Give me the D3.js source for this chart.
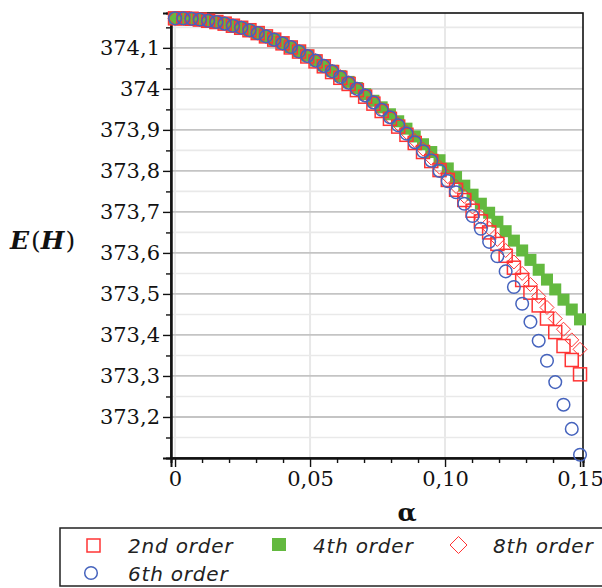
<!DOCTYPE html>
<html><head><meta charset="utf-8">
<script src="https://cdn.jsdelivr.net/npm/d3@7"></script>
<style>
html,body{margin:0;padding:0;background:#fff;}
svg{display:block;}
</style></head>
<body>
<svg id="chart" width="602" height="588"></svg>
<script>
// ---- data ----
const alpha = [0, 0.00306, 0.00612, 0.00918, 0.01224, 0.01531, 0.01837, 0.02143, 0.02449, 0.02755,
  0.03061, 0.03367, 0.03673, 0.03980, 0.04286, 0.04592, 0.04898, 0.05204, 0.05510, 0.05816,
  0.06122, 0.06429, 0.06735, 0.07041, 0.07347, 0.07653, 0.07959, 0.08265, 0.08571, 0.08878,
  0.09184, 0.09490, 0.09796, 0.10102, 0.10408, 0.10714, 0.11020, 0.11327, 0.11633, 0.11939,
  0.12245, 0.12551, 0.12857, 0.13163, 0.13469, 0.13776, 0.14082, 0.14388, 0.14694, 0.15];

const order2 = [374.172, 374.172, 374.171, 374.169, 374.166, 374.163, 374.159, 374.154, 374.149, 374.143,
  374.136, 374.128, 374.120, 374.111, 374.101, 374.091, 374.079, 374.067, 374.055, 374.041,
  374.027, 374.012, 373.997, 373.981, 373.964, 373.946, 373.927, 373.908, 373.888, 373.868,
  373.846, 373.824, 373.802, 373.778, 373.754, 373.729, 373.703, 373.677, 373.650, 373.622,
  373.593, 373.564, 373.534, 373.503, 373.472, 373.440, 373.407, 373.373, 373.339, 373.304];

const order4 = [374.172, 374.172, 374.171, 374.169, 374.166, 374.163, 374.159, 374.154, 374.149, 374.143,
  374.136, 374.128, 374.120, 374.112, 374.102, 374.092, 374.081, 374.069, 374.057, 374.044,
  374.031, 374.017, 374.002, 373.987, 373.971, 373.955, 373.938, 373.921, 373.903, 373.884,
  373.865, 373.846, 373.826, 373.806, 373.785, 373.764, 373.742, 373.720, 373.698, 373.676,
  373.653, 373.630, 373.606, 373.583, 373.559, 373.535, 373.511, 373.486, 373.462, 373.438];

const order6 = [374.172, 374.172, 374.171, 374.169, 374.166, 374.163, 374.159, 374.154, 374.149, 374.143,
  374.136, 374.128, 374.120, 374.111, 374.102, 374.091, 374.080, 374.069, 374.056, 374.043,
  374.029, 374.015, 374.000, 373.984, 373.967, 373.949, 373.931, 373.911, 373.891, 373.870,
  373.848, 373.825, 373.800, 373.775, 373.748, 373.720, 373.690, 373.659, 373.627, 373.592,
  373.555, 373.517, 373.476, 373.432, 373.386, 373.337, 373.285, 373.230, 373.171, 373.108];

const order8 = [374.172, 374.172, 374.171, 374.169, 374.166, 374.163, 374.159, 374.154, 374.149, 374.143,
  374.136, 374.128, 374.120, 374.111, 374.102, 374.091, 374.080, 374.069, 374.056, 374.043,
  374.030, 374.015, 374.000, 373.984, 373.968, 373.950, 373.932, 373.914, 373.894, 373.874,
  373.853, 373.831, 373.809, 373.786, 373.762, 373.738, 373.712, 373.687, 373.660, 373.633,
  373.606, 373.578, 373.550, 373.523, 373.494, 373.467, 373.440, 373.414, 373.388, 373.365];

const seriesNames = ["2nd order", "4th order", "8th order", "6th order"];

const xTicks = [0, 0.05, 0.10, 0.15];
const xTickLabels = ["0", "0,05", "0,10", "0,15"];
const xMinorTicks = [0.01, 0.02, 0.03, 0.04, 0.06, 0.07, 0.08, 0.09, 0.11, 0.12, 0.13, 0.14];
const yTicks = [373.2, 373.3, 373.4, 373.5, 373.6, 373.7, 373.8, 373.9, 374.0, 374.1];
const yTickLabels = ["373,2", "373,3", "373,4", "373,5", "373,6", "373,7", "373,8", "373,9", "374", "374,1"];
const yMinorTicks = [373.15, 373.25, 373.35, 373.45, 373.55, 373.65, 373.75, 373.85, 373.95, 374.05, 374.15];

// ---- layout ----
const svg = d3.select("#chart");
const L = 171, R = 583, T = 13, B = 458;
const x = d3.scaleLinear().domain([-0.0015, 0.1511]).range([L, R]);
const y = d3.scaleLinear().domain([373.1, 374.185]).range([B, T]);

const RED = "#ff3434", GREEN = "#63b93f", BLUE = "#4563bd";

// gridlines
const grid = svg.append("g");
grid.selectAll(".vg").data(xTicks.slice(0, 3)).join("line")
  .attr("x1", d => x(d)).attr("x2", d => x(d)).attr("y1", T).attr("y2", B)
  .attr("stroke", "#e8e8e8").attr("stroke-width", 2);
grid.selectAll(".hmin").data(yMinorTicks).join("line")
  .attr("x1", L).attr("x2", R).attr("y1", d => y(d)).attr("y2", d => y(d))
  .attr("stroke", "#e9e9e9").attr("stroke-width", 1.6);
grid.selectAll(".hmaj").data(yTicks).join("line")
  .attr("x1", L).attr("x2", R).attr("y1", d => y(d)).attr("y2", d => y(d))
  .attr("stroke", "#c4c4c4").attr("stroke-width", 1.8);

// frame
svg.append("rect").attr("x", L).attr("y", T).attr("width", R - L).attr("height", B - T)
  .attr("fill", "none").attr("stroke", "#111").attr("stroke-width", 1.6);

// axes
const fontTick = "'DejaVu Serif', serif";
const yAxis = svg.append("g").attr("transform", `translate(${L},0)`)
  .call(d3.axisLeft(y).tickValues(yTicks).tickFormat((d, i) => yTickLabels[i]).tickSize(8).tickPadding(3));
const yMinor = svg.append("g").attr("transform", `translate(${L},0)`)
  .call(d3.axisLeft(y).tickValues(yMinorTicks).tickFormat("").tickSize(5));
const xAxis = svg.append("g").attr("transform", `translate(0,${B})`)
  .call(d3.axisBottom(x).tickValues(xTicks).tickFormat((d, i) => xTickLabels[i]).tickSize(9).tickPadding(4));
const xMinor = svg.append("g").attr("transform", `translate(0,${B})`)
  .call(d3.axisBottom(x).tickValues(xMinorTicks).tickFormat("").tickSize(5));
[yAxis, yMinor, xAxis, xMinor].forEach(g => {
  g.select(".domain").attr("stroke", "#111").attr("stroke-width", 2);
  g.selectAll(".tick line").attr("stroke", "#111").attr("stroke-width", 1.4);
  g.selectAll("text").attr("font-family", fontTick).attr("font-size", 21).attr("fill", "#111");
});

// series
const pts = (vals) => alpha.map((a, i) => [a, vals[i]]);
const g4 = svg.append("g");
g4.selectAll("rect").data(pts(order4)).join("rect")
  .attr("x", d => x(d[0]) - 6).attr("y", d => y(d[1]) - 6).attr("width", 12).attr("height", 12)
  .attr("fill", GREEN);
const g2 = svg.append("g");
g2.selectAll("rect").data(pts(order2)).join("rect")
  .attr("x", d => x(d[0]) - 6.5).attr("y", d => y(d[1]) - 6.5).attr("width", 13).attr("height", 13)
  .attr("fill", "none").attr("stroke", RED).attr("stroke-width", 1.5);
const g8 = svg.append("g");
g8.selectAll("path").data(pts(order8)).join("path")
  .attr("d", d => { const cx = x(d[0]), cy = y(d[1]), r = 7; return `M${cx},${cy - r}L${cx + r},${cy}L${cx},${cy + r}L${cx - r},${cy}Z`; })
  .attr("fill", "none").attr("stroke", RED).attr("stroke-width", 1);
const g6 = svg.append("g");
g6.selectAll("circle").data(pts(order6)).join("circle")
  .attr("cx", d => x(d[0])).attr("cy", d => y(d[1])).attr("r", 6.3)
  .attr("fill", "none").attr("stroke", BLUE).attr("stroke-width", 1.5);

// axis titles
const yt = svg.append("text").attr("x", 10).attr("y", 249)
  .attr("font-family", fontTick).attr("font-size", 25).attr("fill", "#111");
yt.append("tspan").attr("font-weight", "bold").attr("font-style", "italic").text("E");
yt.append("tspan").attr("dx", 2).text("(");
yt.append("tspan").attr("font-weight", "bold").attr("font-style", "italic").text("H");
yt.append("tspan").attr("dx", 1).text(")");

svg.append("text").attr("x", 407).attr("y", 521).attr("text-anchor", "middle")
  .attr("font-family", fontTick).attr("font-size", 25).attr("font-weight", "bold").attr("fill", "#111")
  .text("α");

// legend
svg.append("rect").attr("x", 60).attr("y", 528).attr("width", 560).attr("height", 58)
  .attr("fill", "none").attr("stroke", "#222").attr("stroke-width", 1.5);
const lg = svg.append("g").attr("font-family", "'DejaVu Sans', sans-serif").attr("font-style", "italic")
  .attr("font-size", 20).attr("fill", "#222").attr("letter-spacing", 0.8);
// 2nd order
lg.append("rect").attr("x", 87).attr("y", 539).attr("width", 13).attr("height", 13)
  .attr("fill", "none").attr("stroke", RED).attr("stroke-width", 1.5);
lg.append("text").attr("x", 128).attr("y", 553).text(seriesNames[0]);
// 4th order
lg.append("rect").attr("x", 272).attr("y", 538).attr("width", 14).attr("height", 13).attr("fill", GREEN);
lg.append("text").attr("x", 313).attr("y", 553).text(seriesNames[1]);
// 8th order
lg.append("path").attr("d", "M458.5,536.5L467,545L458.5,553.5L450,545Z")
  .attr("fill", "none").attr("stroke", RED).attr("stroke-width", 1);
lg.append("text").attr("x", 493).attr("y", 553).text(seriesNames[2]);
// 6th order
lg.append("circle").attr("cx", 91).attr("cy", 573).attr("r", 6.3)
  .attr("fill", "none").attr("stroke", BLUE).attr("stroke-width", 1.5);
lg.append("text").attr("x", 128).attr("y", 581).text(seriesNames[3]);
</script>
</body></html>
